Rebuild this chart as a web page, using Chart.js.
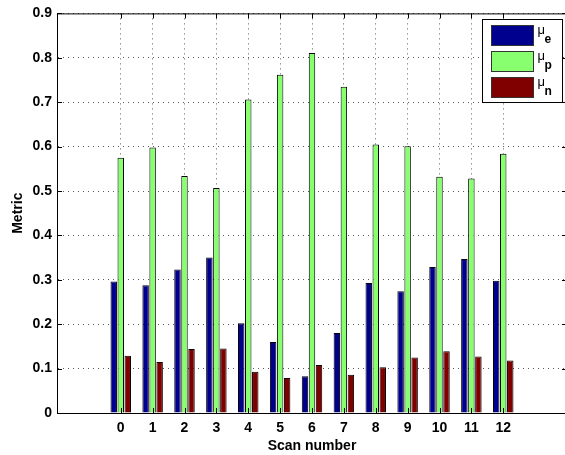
<!DOCTYPE html>
<html lang="en">
<head>
<meta charset="UTF-8">
<title>Metric per scan</title>
<style>
  html, body { margin: 0; padding: 0; background: #fff; overflow: hidden; }
  .chartBox { position: relative; width: 569px; height: 455px; }
</style>
</head>
<body>
<div class="chartBox">
  <canvas id="metricChart" width="569" height="455"></canvas>
</div>

<script src="https://cdn.jsdelivr.net/npm/chart.js"></script>
<script>
  // values
  const scans = [0, 1, 2, 3, 4, 5, 6, 7, 8, 9, 10, 11, 12];
  const muE = [0.296, 0.288, 0.323, 0.350, 0.202, 0.160, 0.083, 0.180, 0.293, 0.274, 0.329, 0.347, 0.298];
  const muP = [0.575, 0.598, 0.534, 0.507, 0.706, 0.762, 0.811, 0.735, 0.605, 0.601, 0.532, 0.528, 0.584];
  const muN = [0.129, 0.115, 0.144, 0.145, 0.093, 0.079, 0.108, 0.086, 0.103, 0.125, 0.139, 0.127, 0.118];
  const seriesSubs = ['e', 'p', 'n'];
  const seriesColors = ['#00008f', '#88ff6e', '#800000'];
  const yTicks = [0, 0.1, 0.2, 0.3, 0.4, 0.5, 0.6, 0.7, 0.8, 0.9];

  const FONT = "'Liberation Sans', Arial, Helvetica, sans-serif";

  // matlab style: inward ticks on all four sides, full box, legend inside the axes
  const matlabAxes = {
    id: 'matlabAxes',
    afterDraw(chart) {
      const ctx = chart.ctx;
      const a = chart.chartArea;
      const xs = chart.scales.x, ys = chart.scales.y;
      ctx.save();
      ctx.strokeStyle = '#000';
      ctx.lineWidth = 1;
      ctx.beginPath();
      ctx.moveTo(a.left, a.top + 0.5); ctx.lineTo(a.right, a.top + 0.5);
      ctx.moveTo(a.right - 0.5, a.top); ctx.lineTo(a.right - 0.5, a.bottom);
      scans.forEach(v => {
        const px = Math.round(xs.getPixelForValue(v)) + 0.5;
        ctx.moveTo(px, a.bottom); ctx.lineTo(px, a.bottom - 5);
        ctx.moveTo(px, a.top); ctx.lineTo(px, a.top + 5);
      });
      yTicks.forEach(v => {
        const py = Math.round(ys.getPixelForValue(v)) + 0.5;
        ctx.moveTo(a.left, py); ctx.lineTo(a.left + 5, py);
        ctx.moveTo(a.right, py); ctx.lineTo(a.right - 5, py);
      });
      ctx.stroke();

      // legend box
      const w = 80, h = 83;
      const x0 = Math.round(a.right - 5 - w) + 0.5;
      const y0 = Math.round(a.top + 6) + 0.5;
      ctx.fillStyle = '#fff';
      ctx.fillRect(x0, y0, w, h);
      ctx.strokeRect(x0, y0, w, h);
      chart.data.datasets.forEach((ds, i) => {
        const sy = y0 + 6 + i * 26;
        ctx.fillStyle = ds.backgroundColor;
        ctx.fillRect(x0 + 9, sy, 42, 20);
        ctx.strokeStyle = '#333';
        ctx.strokeRect(x0 + 9, sy, 42, 20);
        ctx.fillStyle = '#000';
        ctx.textBaseline = 'alphabetic';
        ctx.textAlign = 'left';
        ctx.font = '13px ' + FONT;
        ctx.fillText('μ', x0 + 55, sy + 8);
        ctx.font = 'bold 12px ' + FONT;
        ctx.fillText(seriesSubs[i], x0 + 62, sy + 17);
      });
      ctx.restore();
    }
  };

  const ctx = document.getElementById('metricChart').getContext('2d');
  const metricChart = new Chart(ctx, {
    type: 'bar',
    data: {
      datasets: [muE, muP, muN].map((vals, i) => ({
        label: 'μ' + seriesSubs[i],
        data: scans.map((s, k) => ({ x: s, y: vals[k] })),
        backgroundColor: seriesColors[i],
        borderColor: '#000',
        borderWidth: 1,
        categoryPercentage: 0.66,
        barPercentage: 0.92
      }))
    },
    options: {
      responsive: false,
      animation: false,
      devicePixelRatio: 1,
      layout: { padding: { top: 11, right: 2, left: 0, bottom: 0 } },
      plugins: {
        legend: { display: false },
        tooltip: { enabled: false }
      },
      scales: {
        x: {
          type: 'linear',
          min: -2,
          max: 14,
          offset: false,
          afterBuildTicks: axis => { axis.ticks = scans.map(v => ({ value: v })); },
          afterFit: axis => { axis.height = 42; },
          grid: { color: 'rgba(0,0,0,0.65)', lineWidth: 1, drawTicks: false, offset: false },
          border: { color: '#000', width: 1, dash: [1, 4] },
          ticks: {
            color: '#000',
            padding: 7,
            maxRotation: 0,
            font: { family: FONT, size: 14, weight: 'bold' },
            callback: v => String(v)
          },
          title: {
            display: true,
            text: 'Scan number',
            color: '#000',
            padding: { top: 0, bottom: 0 },
            font: { family: FONT, size: 14, weight: 'bold' }
          }
        },
        y: {
          min: 0,
          max: 0.9,
          afterBuildTicks: axis => { axis.ticks = yTicks.map(v => ({ value: v })); },
          afterFit: axis => { axis.width = 57; },
          grid: { color: 'rgba(0,0,0,0.65)', lineWidth: 1, drawTicks: false },
          border: { color: '#000', width: 1, dash: [1, 4] },
          ticks: {
            color: '#000',
            padding: 5,
            font: { family: FONT, size: 14, weight: 'bold' },
            callback: v => (v === 0 ? '0' : v.toFixed(1))
          },
          title: {
            display: true,
            text: 'Metric',
            color: '#000',
            padding: { top: 10, bottom: 0 },
            font: { family: FONT, size: 14, weight: 'bold' }
          }
        }
      }
    },
    plugins: [matlabAxes]
  });
</script>
</body>
</html>
